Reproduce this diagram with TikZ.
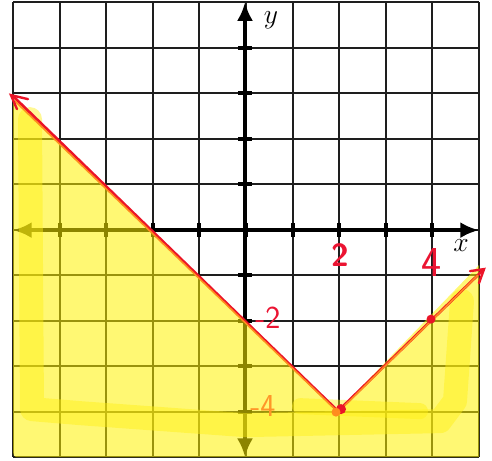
\documentclass[tikz,border=0pt]{standalone}
\usetikzlibrary{arrows.meta}

\tikzset{every picture/.style={line width=0.75pt}}
\tikzset{
  gridline/.style={draw={rgb,255:red,30;green,30;blue,30},line width=1.5},
  axisline/.style={draw=black,line width=3.2,{Latex[length=14,width=12]}-{Latex[length=14,width=12]}},
  tickmark/.style={draw=black,line width=3},
  shade/.style={fill=yellow,fill opacity=0.55},
  marker/.style={draw={rgb,255:red,255;green,240;blue,20},draw opacity=0.45,line width=18,line cap=round,line join=round},
  hand/.style={text={rgb,255:red,235;green,20;blue,50},font=\sffamily\fontsize{24}{26}\selectfont}
}

\begin{document}
\begin{tikzpicture}[x=0.75pt,y=0.75pt,yscale=-1,xscale=1]
\path (0,0) rectangle (492,459); %picture is 492 wide and 459 high

%Grid
\foreach \i in {0,...,10}{
  \draw [gridline] ({13+46.6*\i},1) -- ({13+46.6*\i},456) ;
  \draw [gridline] (13,{1+45.5*\i}) -- (479,{1+45.5*\i}) ;
}

%Axes
\draw [axisline] (13,229) -- (479,229) ;
\draw [axisline] (245,1) -- (245,456) ;
%Ticks
\foreach \i in {1,...,9}{
  \draw [tickmark] ({13+46.6*\i},222) -- ({13+46.6*\i},236) ;
  \draw [tickmark] (238,{1+45.5*\i}) -- (252,{1+45.5*\i}) ;
}

%Shaded region below the graph
\draw [shade,draw=none] (13,95) -- (338,410) -- (479,264) -- (479,456) -- (20,456) .. controls (13,456) .. (13,445) -- cycle ;
%Highlighter strokes
\draw [marker] (30,118) -- (32,408) -- (80,412) -- (245,424) -- (440,420) -- (455,400) -- (462,300) ;
\draw [marker,line width=12] (300,405) -- (420,410) ;

%Graph
\draw [draw={rgb,255:red,235;green,20;blue,40},line width=2] (13,95) -- (338,410) -- (484,268) ;
\draw [draw={rgb,255:red,255;green,140;blue,30},line width=1.2] (15,100) -- (338,411) -- (478,274) ;
%Arrow ends
\draw [draw={rgb,255:red,235;green,20;blue,40},line width=1.8,line cap=round] (28,98) -- (11,94) -- (17,108) ;
\draw [draw={rgb,255:red,235;green,20;blue,40},line width=1.8,line cap=round] (470,270) -- (484,268) -- (479,282) ;

%Points
\fill [fill={rgb,255:red,235;green,20;blue,40}] (341,408) circle (5) ;
\fill [fill={rgb,255:red,255;green,140;blue,30}] (336,411) circle (4.5) ;
\fill [fill={rgb,255:red,235;green,20;blue,40}] (431,318) circle (4.5) ;

% Text Node
\draw (271,19) node  [font=\fontsize{22}{24}\selectfont] {$y$};
% Text Node
\draw (461,244) node  [font=\fontsize{22}{24}\selectfont] {$x$};
% Text Node
\draw (340,254) node  [hand,font=\sffamily\bfseries\fontsize{24}{26}\selectfont] {2};
% Text Node
\draw (432,261) node  [hand,font=\sffamily\fontsize{32}{34}\selectfont] {4};
% Text Node
\draw (268,317) node  [hand] {-2};
% Text Node
\draw (263,405) node  [hand,text={rgb,255:red,255;green,150;blue,40}] {-4};

\end{tikzpicture}
\end{document}
